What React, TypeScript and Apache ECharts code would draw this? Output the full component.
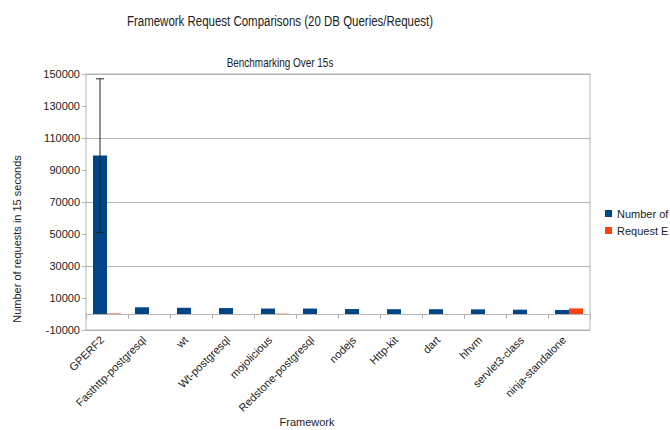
import React, { useEffect, useRef } from "react";
import * as echarts from "echarts";

const categories = [
  "GPERF2",
  "Fasthttp-postgresql",
  "wt",
  "Wt-postgresql",
  "mojolicious",
  "Redstone-postgresql",
  "nodejs",
  "Http-kit",
  "dart",
  "hhvm",
  "servlet3-class",
  "ninja-standalone",
];
const requests = [99000, 4200, 3900, 3700, 3400, 3400, 3100, 3000, 3000, 2900, 2700, 2500];
const requestErrors = [300, 0, 0, 0, 200, 0, 0, 0, 0, 0, 0, 3500];
// [category index, low, high]
const requestErrorBars = [[0, 51000, 147000]];
const yTickLabels = [-10000, 10000, 30000, 50000, 70000, 90000, 110000, 130000, 150000];

const FONT = "Liberation Sans";

export default function App() {
  const ref = useRef<HTMLDivElement>(null);
  useEffect(() => {
    if (!ref.current) return;
    const chart = echarts.init(ref.current, null, { renderer: "svg" });
    chart.setOption({
      animation: false,
      textStyle: { fontFamily: FONT },
      grid: {
        left: 86,
        right: 80,
        top: 74,
        bottom: 100,
        show: true,
        borderColor: "#b3b3b3",
        borderWidth: 1,
        backgroundColor: "transparent",
      },
      legend: {
        orient: "vertical",
        left: 605,
        top: 208,
        padding: 0,
        itemWidth: 7,
        itemHeight: 7,
        itemGap: 6,
        icon: "rect",
        data: ["Number of requests", "Request Errors"],
        // the reference shows only the first characters of each name (cut at the picture's edge)
        formatter: (name: string) => name.slice(0, 9),
        textStyle: {
          fontFamily: FONT,
          fontSize: 11,
          color: "#222",
        },
      },
      xAxis: {
        type: "category",
        data: categories,
        axisLine: { onZero: true, lineStyle: { color: "#b3b3b3", width: 1 } },
        axisTick: { show: true, length: 5, lineStyle: { color: "#b3b3b3" } },
        axisLabel: {
          rotate: 45,
          margin: 3,
          padding: [0, 7, 0, 0],
          interval: 0,
          fontFamily: FONT,
          fontSize: 11,
          color: "#222",
        },
      },
      yAxis: {
        type: "value",
        min: -10000,
        max: 150000,
        interval: 10000,
        axisLine: { show: false },
        axisTick: {
          show: true,
          length: 4,
          customValues: yTickLabels,
          lineStyle: { color: "#b3b3b3" },
        },
        axisLabel: {
          customValues: yTickLabels,
          formatter: (v: number) => String(v),
          fontFamily: FONT,
          fontSize: 11,
          color: "#222",
          margin: 6,
        },
        splitLine: {
          show: true,
          lineStyle: { color: ["#b3b3b3", "rgba(0,0,0,0)"], width: 1 },
        },
      },
      graphic: [
        {
          type: "text",
          x: 280,
          y: 21,
          scaleX: 0.82,
          style: {
            text: "Framework Request Comparisons (20 DB Queries/Request)",
            font: `14px "${FONT}"`,
            fill: "#222",
            textAlign: "center",
            textVerticalAlign: "middle",
          },
        },
        {
          type: "text",
          x: 280,
          y: 63,
          scaleX: 0.83,
          style: {
            text: "Benchmarking Over 15s",
            font: `12px "${FONT}"`,
            fill: "#222",
            textAlign: "center",
            textVerticalAlign: "middle",
          },
        },
        {
          type: "text",
          x: 17,
          y: 239,
          rotation: Math.PI / 2,
          style: {
            text: "Number of requests in 15 seconds",
            font: `11px "${FONT}"`,
            fill: "#222",
            textAlign: "center",
            textVerticalAlign: "middle",
          },
        },
        {
          type: "text",
          x: 307,
          y: 422,
          style: {
            text: "Framework",
            font: `11px "${FONT}"`,
            fill: "#222",
            textAlign: "center",
            textVerticalAlign: "middle",
          },
        },
      ],
      series: [
        {
          name: "Number of requests",
          type: "bar",
          data: requests,
          barWidth: 14,
          barGap: "0%",
          itemStyle: { color: "#004586" },
        },
        {
          name: "Request Errors",
          type: "bar",
          data: requestErrors,
          barWidth: 14,
          barGap: "0%",
          itemStyle: { color: "#ff420e" },
        },
        {
          name: "errorbars",
          type: "custom",
          data: requestErrorBars,
          encode: { x: 0, y: [1, 2] },
          z: 10,
          renderItem: (params: any, api: any) => {
            const idx = api.value(0);
            const low = api.coord([idx, api.value(1)]);
            const high = api.coord([idx, api.value(2)]);
            const x = low[0] - 7;
            const cap = 4;
            const style = { stroke: "#222", lineWidth: 1, fill: "none" };
            return {
              type: "group",
              children: [
                { type: "line", shape: { x1: x, y1: high[1], x2: x, y2: low[1] }, style },
                { type: "line", shape: { x1: x - cap, y1: high[1], x2: x + cap, y2: high[1] }, style },
                { type: "line", shape: { x1: x - cap, y1: low[1], x2: x + cap, y2: low[1] }, style },
              ],
            };
          },
        },
      ],
    });
    return () => chart.dispose();
  }, []);
  return <div ref={ref} style={{ width: 670, height: 430, position: "absolute", left: 0, top: 0 }} />;
}
